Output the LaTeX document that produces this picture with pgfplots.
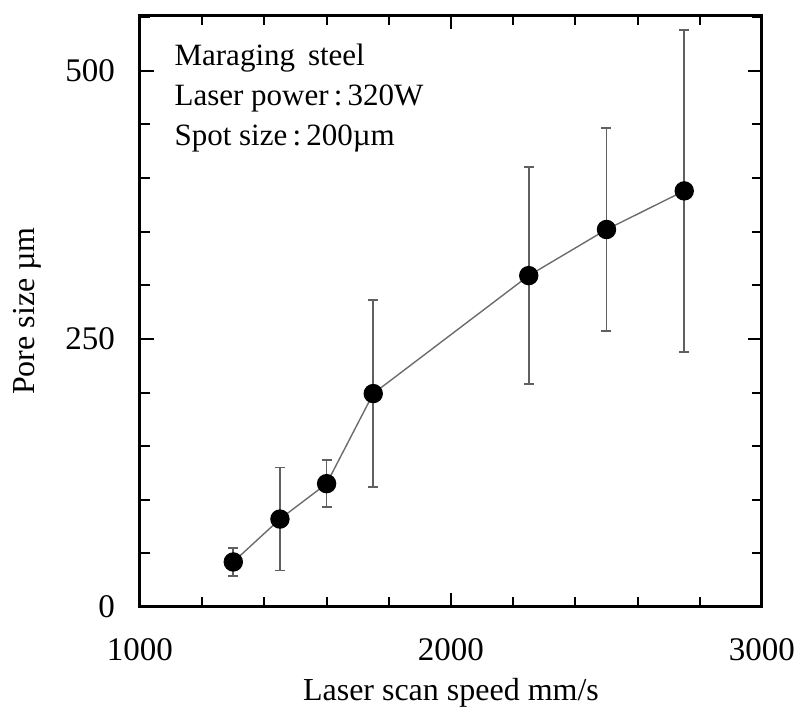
\documentclass[border=0pt]{standalone}
\usepackage{pgfplots}
\pgfplotsset{compat=1.18}
\usepackage{fontspec}
\setmainfont{Liberation Serif}
\begin{document}
\begin{tikzpicture}
\begin{axis}[
  width=311pt, height=296pt, scale only axis,
  xmin=1000, xmax=3000, ymin=0, ymax=552,
  xtick={1000,2000,3000}, ytick={0,250,500},
  minor xtick={1200,1400,1600,1800,2200,2400,2600,2800},
  minor ytick={50,100,150,200,300,350,400,450,550},
  tick align=inside, xtick pos=both, ytick pos=both,
  xticklabel pos=bottom, yticklabel pos=left,
  major tick length=7pt, minor tick length=5pt,
  every tick/.style={black, line width=1pt},
  axis line style={line width=1.5pt},
  /pgf/number format/assume math mode=true,
  /pgf/number format/1000 sep={},
  tick label style={font=\fontsize{16.5}{18}\selectfont},
  xticklabel style={yshift=-12pt},
  yticklabel style={xshift=-9pt},
  xlabel={Laser scan speed mm/s}, ylabel={Pore size µm},
  label style={font=\fontsize{16}{18}\selectfont},
  xlabel style={yshift=-2pt},
  ylabel style={yshift=5pt},
]
\addplot[gray!85!black, line width=0.7pt, mark=*, mark size=4.5pt,
  mark options={black, fill=black},
  error bars/.cd, y dir=both, y explicit,
  error bar style={gray!75!black, line width=0.9pt},
  error mark options={rotate=90, mark size=2.5pt, gray!75!black, line width=0.9pt}]
coordinates {
  (1300,42) +- (0,13)
  (1450,82) +- (0,48)
  (1600,115) +- (0,22)
  (1750,199) +- (0,87)
  (2250,309) +- (0,101)
  (2500,352) +- (0,95)
  (2750,388) +- (0,150)
};
\node[anchor=north west, align=left, inner sep=0pt, font=\fontsize{15.5}{20}\selectfont]
  at (rel axis cs:0.055,0.952) {Maraging\, steel\\Laser power\,:\,320W\\Spot size\,:\,200µm};
\end{axis}
\pgfresetboundingbox
\path[use as bounding box] ([shift={(-70pt,-50pt)}]current axis.south west) rectangle ++(397pt,353.5pt);
\end{tikzpicture}
\end{document}
